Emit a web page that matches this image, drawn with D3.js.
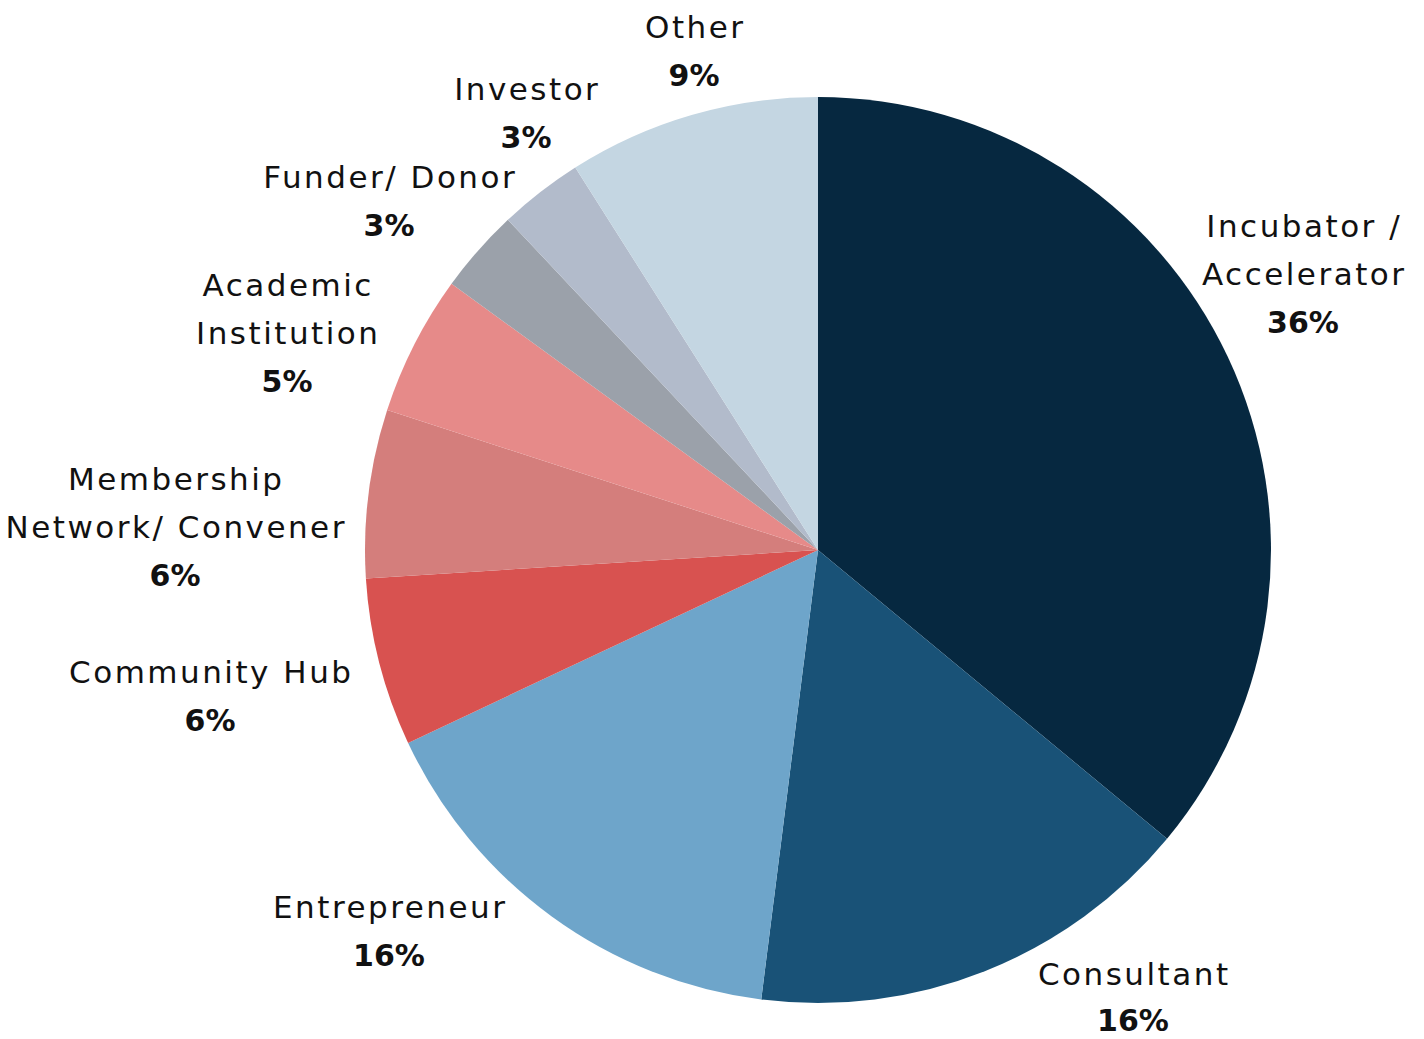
<!DOCTYPE html>
<html>
<head>
<meta charset="utf-8">
<script src="https://cdn.jsdelivr.net/npm/d3@7"></script>
<style>
  html, body { margin: 0; padding: 0; background: #ffffff; }
  svg text { font-family: "DejaVu Sans", "Noto Sans", sans-serif; fill: #111; }
</style>
</head>
<body>
<svg id="chart" width="1424" height="1039"></svg>
<script>
// ---- data ----
const categories = ["Incubator / Accelerator", "Consultant", "Entrepreneur", "Community Hub",
  "Membership Network/ Convener", "Academic Institution", "Funder/ Donor", "Investor", "Other"];
const values = [36, 16, 16, 6, 6, 5, 3, 3, 9];
const labelLines = [
  ["Incubator /", "Accelerator"],
  ["Consultant"],
  ["Entrepreneur"],
  ["Community Hub"],
  ["Membership", "Network/ Convener"],
  ["Academic", "Institution"],
  ["Funder/ Donor"],
  ["Investor"],
  ["Other"]
];
const colors = ["#062840", "#195277", "#6ea5ca", "#d85250", "#d47e7c", "#e68a89", "#9ba1aa", "#b2bbcb", "#c4d6e2"];
// label anchor (center x, first baseline y) - layout only
const labelAnchors = [
  [1303, 237], [1133, 985], [389, 918], [210, 683], [175, 490],
  [287, 296], [389, 188], [526, 100], [694, 38]
];

// ---- layout ----
const cx = 818, cy = 550, R = 453, lineH = 48;
const svg = d3.select("#chart");
const g = svg.append("g").attr("transform", `translate(${cx},${cy})`);

const pie = d3.pie().sort(null).value(d => d.value);
const arc = d3.arc().innerRadius(0).outerRadius(R);
const data = categories.map((c, i) => ({ name: c, value: values[i], i }));

g.selectAll("path.slice")
  .data(pie(data))
  .join("path")
  .attr("class", "slice")
  .attr("d", arc)
  .attr("fill", d => colors[d.data.i]);

const labels = svg.append("g");
data.forEach((d, i) => {
  const [x, y] = labelAnchors[i];
  const lines = labelLines[i];
  lines.forEach((ln, k) => {
    labels.append("text").attr("text-anchor", "middle")
      .attr("x", x).attr("y", y + k * lineH)
      .attr("font-size", 31).attr("letter-spacing", 2.5).attr("font-weight", 400)
      .attr("dx", 1.25).text(ln);
  });
  labels.append("text").attr("text-anchor", "middle")
    .attr("x", x).attr("y", y + lines.length * lineH - (i === 1 ? 2 : 0))
    .attr("font-size", 30).attr("font-weight", 700).text(d3.format("d")(d.value) + "%");
});
</script>
</body>
</html>
